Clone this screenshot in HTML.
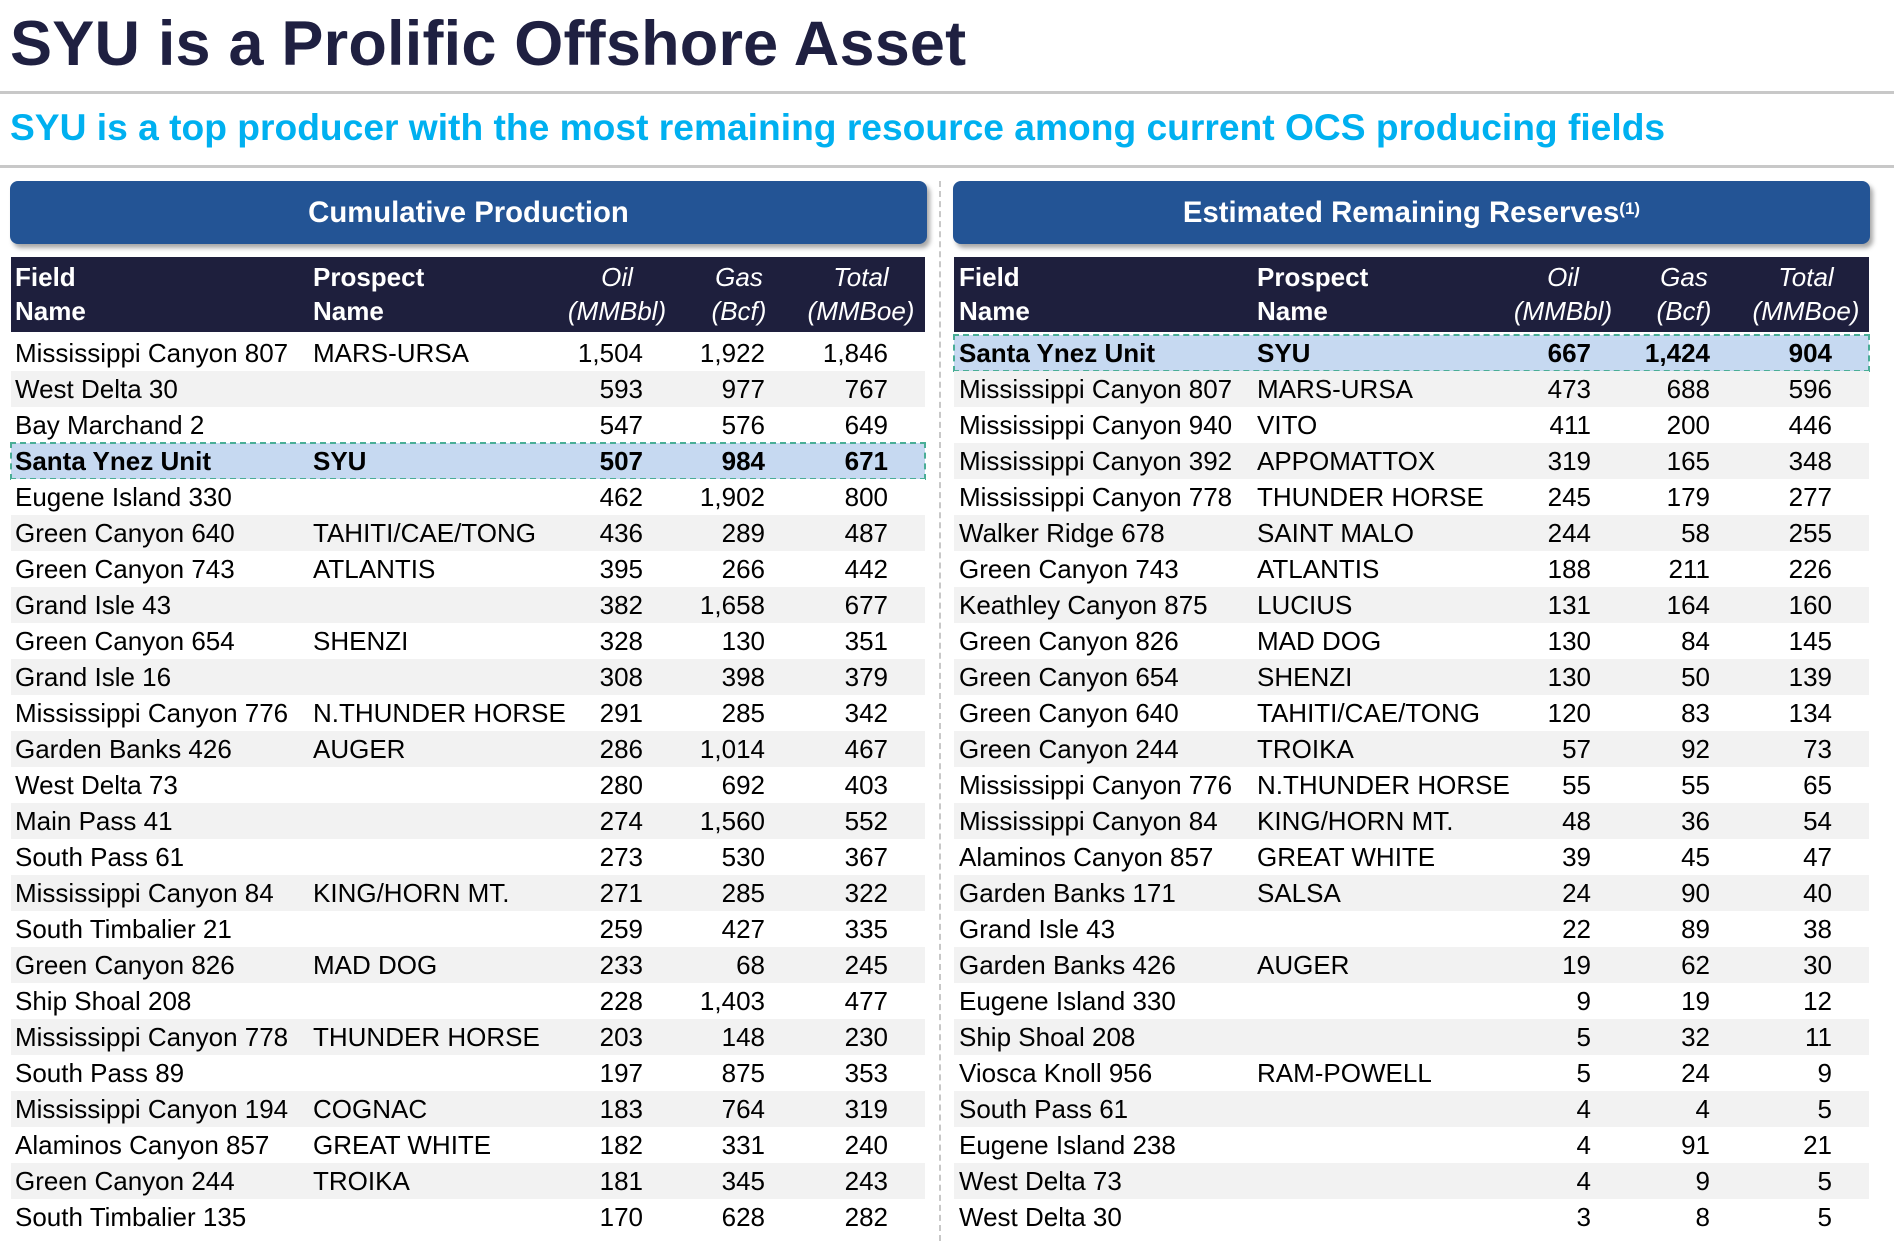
<!DOCTYPE html>
<html><head><meta charset="utf-8">
<style>
html,body{margin:0;padding:0;background:#fff;}
body{width:1894px;height:1250px;position:relative;overflow:hidden;font-family:"Liberation Sans",Arial,sans-serif;}
.title{position:absolute;left:10px;top:8px;font-size:63px;font-weight:bold;color:#1f2041;white-space:nowrap;letter-spacing:0.2px}
.sub{position:absolute;left:10px;top:106px;font-size:37.2px;font-weight:bold;color:#00b0f0;white-space:nowrap}
.hr{position:absolute;left:0;width:1894px;height:3px;background:#c8c8c8}
.banner{position:absolute;top:181px;height:63px;background:#235495;border-radius:8px;color:#fff;font-weight:bold;font-size:29.3px;display:flex;align-items:center;justify-content:center;box-shadow:3px 4px 5px rgba(0,0,0,0.35)}
.banner sup{font-size:17px;position:relative;top:-4px}
.vsep{position:absolute;left:939px;top:181px;height:1060px;border-left:2px dashed #c8c8c8}
.thead{position:absolute;top:257px;height:75px;background:#1e1f3d;color:#fff;font-size:26px}
.cell{position:absolute;white-space:nowrap}
.row{position:absolute;height:36px;font-size:26px;color:#000;line-height:36px}
.hl{background:#c6d9f1;outline:2px dashed #4aae97;outline-offset:-1px;font-weight:bold}
</style></head>
<body>
<div class="title">SYU is a Prolific Offshore Asset</div>
<div class="hr" style="top:91px"></div>
<div class="sub">SYU is a top producer with the most remaining resource among current OCS producing fields</div>
<div class="hr" style="top:165px"></div>
<div class="banner" style="left:10px;width:917px">Cumulative Production</div>
<div class="banner" style="left:953px;width:917px">Estimated Remaining Reserves<sup>(1)</sup></div>
<div class="vsep"></div>
<div id="root"></div>
<script>
const leftFields=["Mississippi Canyon 807","West Delta 30","Bay Marchand 2","Santa Ynez Unit","Eugene Island 330","Green Canyon 640","Green Canyon 743","Grand Isle 43","Green Canyon 654","Grand Isle 16","Mississippi Canyon 776","Garden Banks 426","West Delta 73","Main Pass 41","South Pass 61","Mississippi Canyon 84","South Timbalier 21","Green Canyon 826","Ship Shoal 208","Mississippi Canyon 778","South Pass 89","Mississippi Canyon 194","Alaminos Canyon 857","Green Canyon 244","South Timbalier 135"];
const leftProspects=["MARS-URSA","","","SYU","","TAHITI/CAE/TONG","ATLANTIS","","SHENZI","","N.THUNDER HORSE","AUGER","","","","KING/HORN MT.","","MAD DOG","","THUNDER HORSE","","COGNAC","GREAT WHITE","TROIKA",""];
const leftOil=["1,504","593","547","507","462","436","395","382","328","308","291","286","280","274","273","271","259","233","228","203","197","183","182","181","170"];
const leftGas=["1,922","977","576","984","1,902","289","266","1,658","130","398","285","1,014","692","1,560","530","285","427","68","1,403","148","875","764","331","345","628"];
const leftTotal=["1,846","767","649","671","800","487","442","677","351","379","342","467","403","552","367","322","335","245","477","230","353","319","240","243","282"];
const rightFields=["Santa Ynez Unit","Mississippi Canyon 807","Mississippi Canyon 940","Mississippi Canyon 392","Mississippi Canyon 778","Walker Ridge 678","Green Canyon 743","Keathley Canyon 875","Green Canyon 826","Green Canyon 654","Green Canyon 640","Green Canyon 244","Mississippi Canyon 776","Mississippi Canyon 84","Alaminos Canyon 857","Garden Banks 171","Grand Isle 43","Garden Banks 426","Eugene Island 330","Ship Shoal 208","Viosca Knoll 956","South Pass 61","Eugene Island 238","West Delta 73","West Delta 30"];
const rightProspects=["SYU","MARS-URSA","VITO","APPOMATTOX","THUNDER HORSE","SAINT MALO","ATLANTIS","LUCIUS","MAD DOG","SHENZI","TAHITI/CAE/TONG","TROIKA","N.THUNDER HORSE","KING/HORN MT.","GREAT WHITE","SALSA","","AUGER","","","RAM-POWELL","","","",""];
const rightOil=["667","473","411","319","245","244","188","131","130","130","120","57","55","48","39","24","22","19","9","5","5","4","4","4","3"];
const rightGas=["1,424","688","200","165","179","58","211","164","84","50","83","92","55","36","45","90","89","62","19","32","24","4","91","9","8"];
const rightTotal=["904","596","446","348","277","255","226","160","145","139","134","73","65","54","47","40","38","30","12","11","9","5","21","5","5"];
const hlLeft=3, hlRight=0;

const root=document.getElementById('root');
function mk(parent,cls,style,text){const d=document.createElement('div');d.className=cls;d.style.cssText=style;if(text!==undefined)d.textContent=text;parent.appendChild(d);return d;}
function table(x,w,fields,pros,oil,gas,tot,hl,cols,prefix){
  const th=mk(root,'thead',`left:${x}px;width:${w}px`);
  
  
  const hdr=[["Field","Name",cols.f,'left',false],["Prospect","Name",cols.p,'left',false],["Oil","(MMBbl)",cols.oc,'center',true],["Gas","(Bcf)",cols.gc,'center',true],["Total","(MMBoe)",cols.tc,'center',true]];
  hdr.forEach(h=>{
    const c=mk(th,'cell',`top:3px;line-height:34px;${h[3]==='left'?`left:${h[2]-x}px`:`left:${h[2]-x-70}px;width:140px;text-align:center`};${h[4]?'font-style:italic':'font-weight:bold'}`);
    c.innerHTML=h[0]+'<br>'+h[1];
    
    
  });
  fields.forEach((f,i)=>{
    const r=mk(root,'row'+(i===hl?' hl':''),`left:${x}px;width:${w}px;top:${335+i*36}px;background:${i===hl?'#c6d9f1':(i%2?'#f2f2f2':'#fff')}`);
    
    
    mk(r,'cell',`left:${cols.f-x}px`,f);
    mk(r,'cell',`left:${cols.p-x}px`,pros[i]);
    mk(r,'cell',`right:${x+w-cols.o}px`,oil[i]);
    mk(r,'cell',`right:${x+w-cols.g}px`,gas[i]);
    mk(r,'cell',`right:${x+w-cols.t}px`,tot[i]);
  });
}
table(11,914,leftFields,leftProspects,leftOil,leftGas,leftTotal,hlLeft,{f:15,p:313,o:643,g:765,t:888,oc:617,gc:739,tc:861},'cumulative');
table(954,915,rightFields,rightProspects,rightOil,rightGas,rightTotal,hlRight,{f:959,p:1257,o:1591,g:1710,t:1832,oc:1563,gc:1684,tc:1806},'reserves');
</script>
</body></html>
